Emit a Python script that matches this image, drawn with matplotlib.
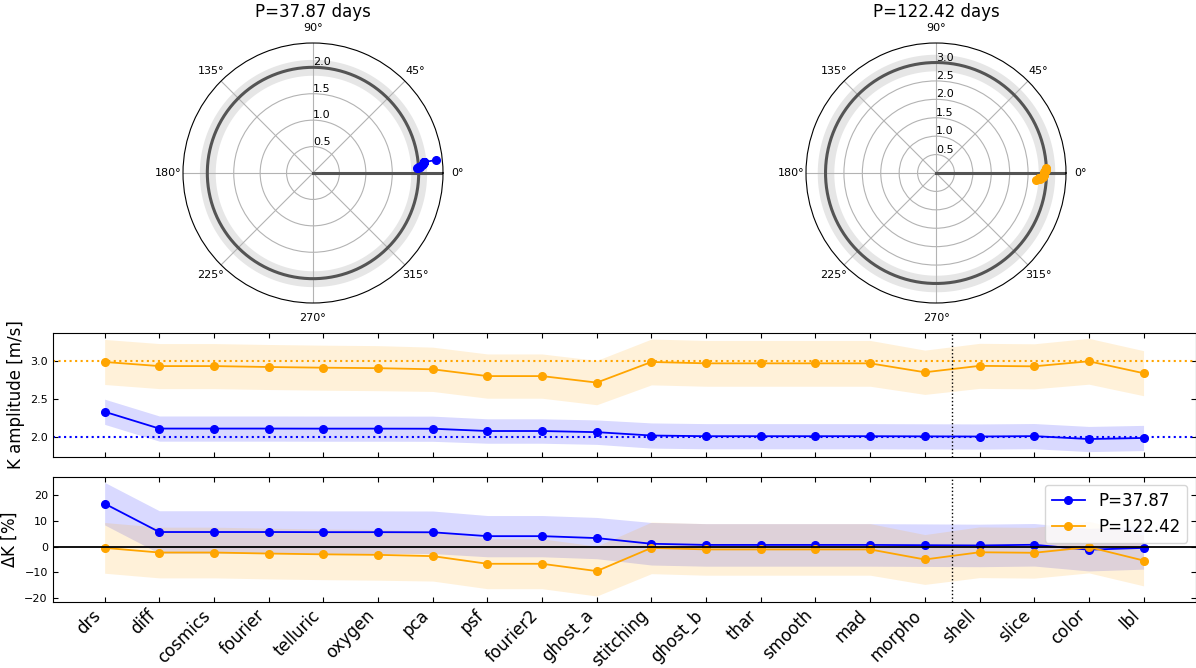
import numpy as np
import matplotlib
matplotlib.use("Agg")
import matplotlib.pyplot as plt

# Reduction steps along the x axis
methods = ["drs", "diff", "cosmics", "fourier", "telluric", "oxygen", "pca",
           "psf", "fourier2", "ghost_a", "stitching", "ghost_b", "thar",
           "smooth", "mad", "morpho", "shell", "slice", "color", "lbl"]

# Signal periods [days] and injected amplitudes [m/s]
periods = [37.87, 122.42]
k_true = [2.0, 3.0]

# Recovered semi-amplitudes [m/s] and their uncertainties
k_p1 = [2.333, 2.113, 2.113, 2.113, 2.112, 2.112, 2.111, 2.081, 2.081, 2.066,
        2.022, 2.013, 2.013, 2.013, 2.013, 2.011, 2.009, 2.014, 1.976, 1.990]
err_p1 = [0.165, 0.165, 0.165, 0.165, 0.165, 0.165, 0.165, 0.160, 0.160, 0.160,
          0.165, 0.165, 0.165, 0.165, 0.165, 0.165, 0.165, 0.165, 0.165, 0.165]
k_p2 = [2.985, 2.931, 2.931, 2.919, 2.910, 2.904, 2.889, 2.800, 2.800, 2.715,
        2.985, 2.967, 2.967, 2.967, 2.967, 2.850, 2.934, 2.928, 2.994, 2.838]
err_p2 = [0.295, 0.295, 0.295, 0.295, 0.295, 0.295, 0.290, 0.290, 0.290, 0.290,
          0.300, 0.300, 0.300, 0.300, 0.300, 0.290, 0.295, 0.295, 0.300, 0.295]

# Recovered phases [deg]
phase_p1 = [6.0, 5.6, 5.6, 5.6, 5.5, 5.5, 5.5, 4.7, 4.7, 4.3,
            3.3, 3.1, 3.1, 3.1, 3.1, 3.0, 3.0, 3.2, 2.6, 2.9]
phase_p2 = [1.5, -1.0, -1.0, -1.5, -1.5, -2.0, -2.0, -3.0, -3.0, -4.0,
            2.5, 1.0, 1.0, 1.0, 1.0, -2.5, 0.0, 0.5, 2.0, -3.5]

# Fractional width of the shaded band around the injected amplitude
band_frac = 0.075

colors = ["blue", "orange"]
W, H = 1196, 668
fig = plt.figure(figsize=(W / 100, H / 100), dpi=100)


def frac_box(x0, y0, x1, y1):
    """Pixel box (top-left origin) -> figure fraction rect."""
    return [x0 / W, (H - y1) / H, (x1 - x0) / W, (y1 - y0) / H]


# ---------------- polar panels ----------------
polar_boxes = [frac_box(183, 43, 443, 303), frac_box(806, 43, 1066, 303)]
polar_rmax = [2.46, 3.53]
ks = [k_p1, k_p2]
errs = [err_p1, err_p2]
phases = [phase_p1, phase_p2]

for i in range(2):
    ax = fig.add_axes(polar_boxes[i], projection="polar")
    K0 = k_true[i]
    rmax = polar_rmax[i]
    tt = np.linspace(0, 2 * np.pi, 500)
    ax.fill_between(tt, K0 * (1 - band_frac), K0 * (1 + band_frac),
                    color="0.9", lw=0, zorder=1)
    ax.plot(tt, np.full_like(tt, K0), color="0.33", lw=2.2, zorder=2)
    ax.plot([0, 0], [0, rmax], color="0.33", lw=2.2, zorder=2)
    ax.plot(np.deg2rad(phases[i]), ks[i], "o-", color=colors[i], ms=5.5,
            lw=1.3, zorder=3)
    ax.set_rmax(rmax)
    ax.set_rticks(np.arange(0.5, K0 + 0.01, 0.5))
    ax.set_rlabel_position(90)
    ax.tick_params(labelsize=8)
    ax.tick_params(axis="x", pad=0)
    ax.grid(True, color="0.7", lw=0.8)
    ax.set_title(f"P={periods[i]} days", fontsize=12, y=1.10, pad=0)

# ---------------- K amplitude panel ----------------
x = np.arange(len(methods))
axK = fig.add_axes(frac_box(52.7, 332.7, 1195.5, 457.3))
axD = fig.add_axes(frac_box(52.7, 476.7, 1195.5, 601.7), sharex=axK)

for i in range(2):
    k = np.array(ks[i])
    e = np.array(errs[i])
    K0 = k_true[i]
    axK.fill_between(x, k - e, k + e, color=colors[i], alpha=0.15, lw=0)
    axK.plot(x, k, "o-", color=colors[i], ms=5.5, lw=1.3)
    axK.axhline(K0, color=colors[i], ls=":", lw=1.5)

    dk = (k - K0) / K0 * 100
    de = e / K0 * 100
    axD.fill_between(x, dk - de, dk + de, color=colors[i], alpha=0.15, lw=0)
    axD.plot(x, dk, "o-", color=colors[i], ms=5.5, lw=1.3,
             label=f"P={periods[i]}")

axD.axhline(0, color="k", lw=1.3)
for ax in (axK, axD):
    ax.axvline(15.5, color="k", ls=":", lw=1)
    ax.tick_params(direction="in", top=True, right=True, labelsize=8)

axK.set_ylabel("K amplitude [m/s]", fontsize=12)
axK.set_yticks([2.0, 2.5, 3.0])
axK.tick_params(labelbottom=False)
axD.set_ylabel(r"$\Delta$K [%]", fontsize=12)
axD.set_yticks([-20, -10, 0, 10, 20])
axD.set_xticks(x)
axD.set_xticklabels(methods, rotation=45, ha="right", fontsize=12)
axD.legend(loc="upper right", fontsize=12)

fig.savefig("out.png", dpi=100)
